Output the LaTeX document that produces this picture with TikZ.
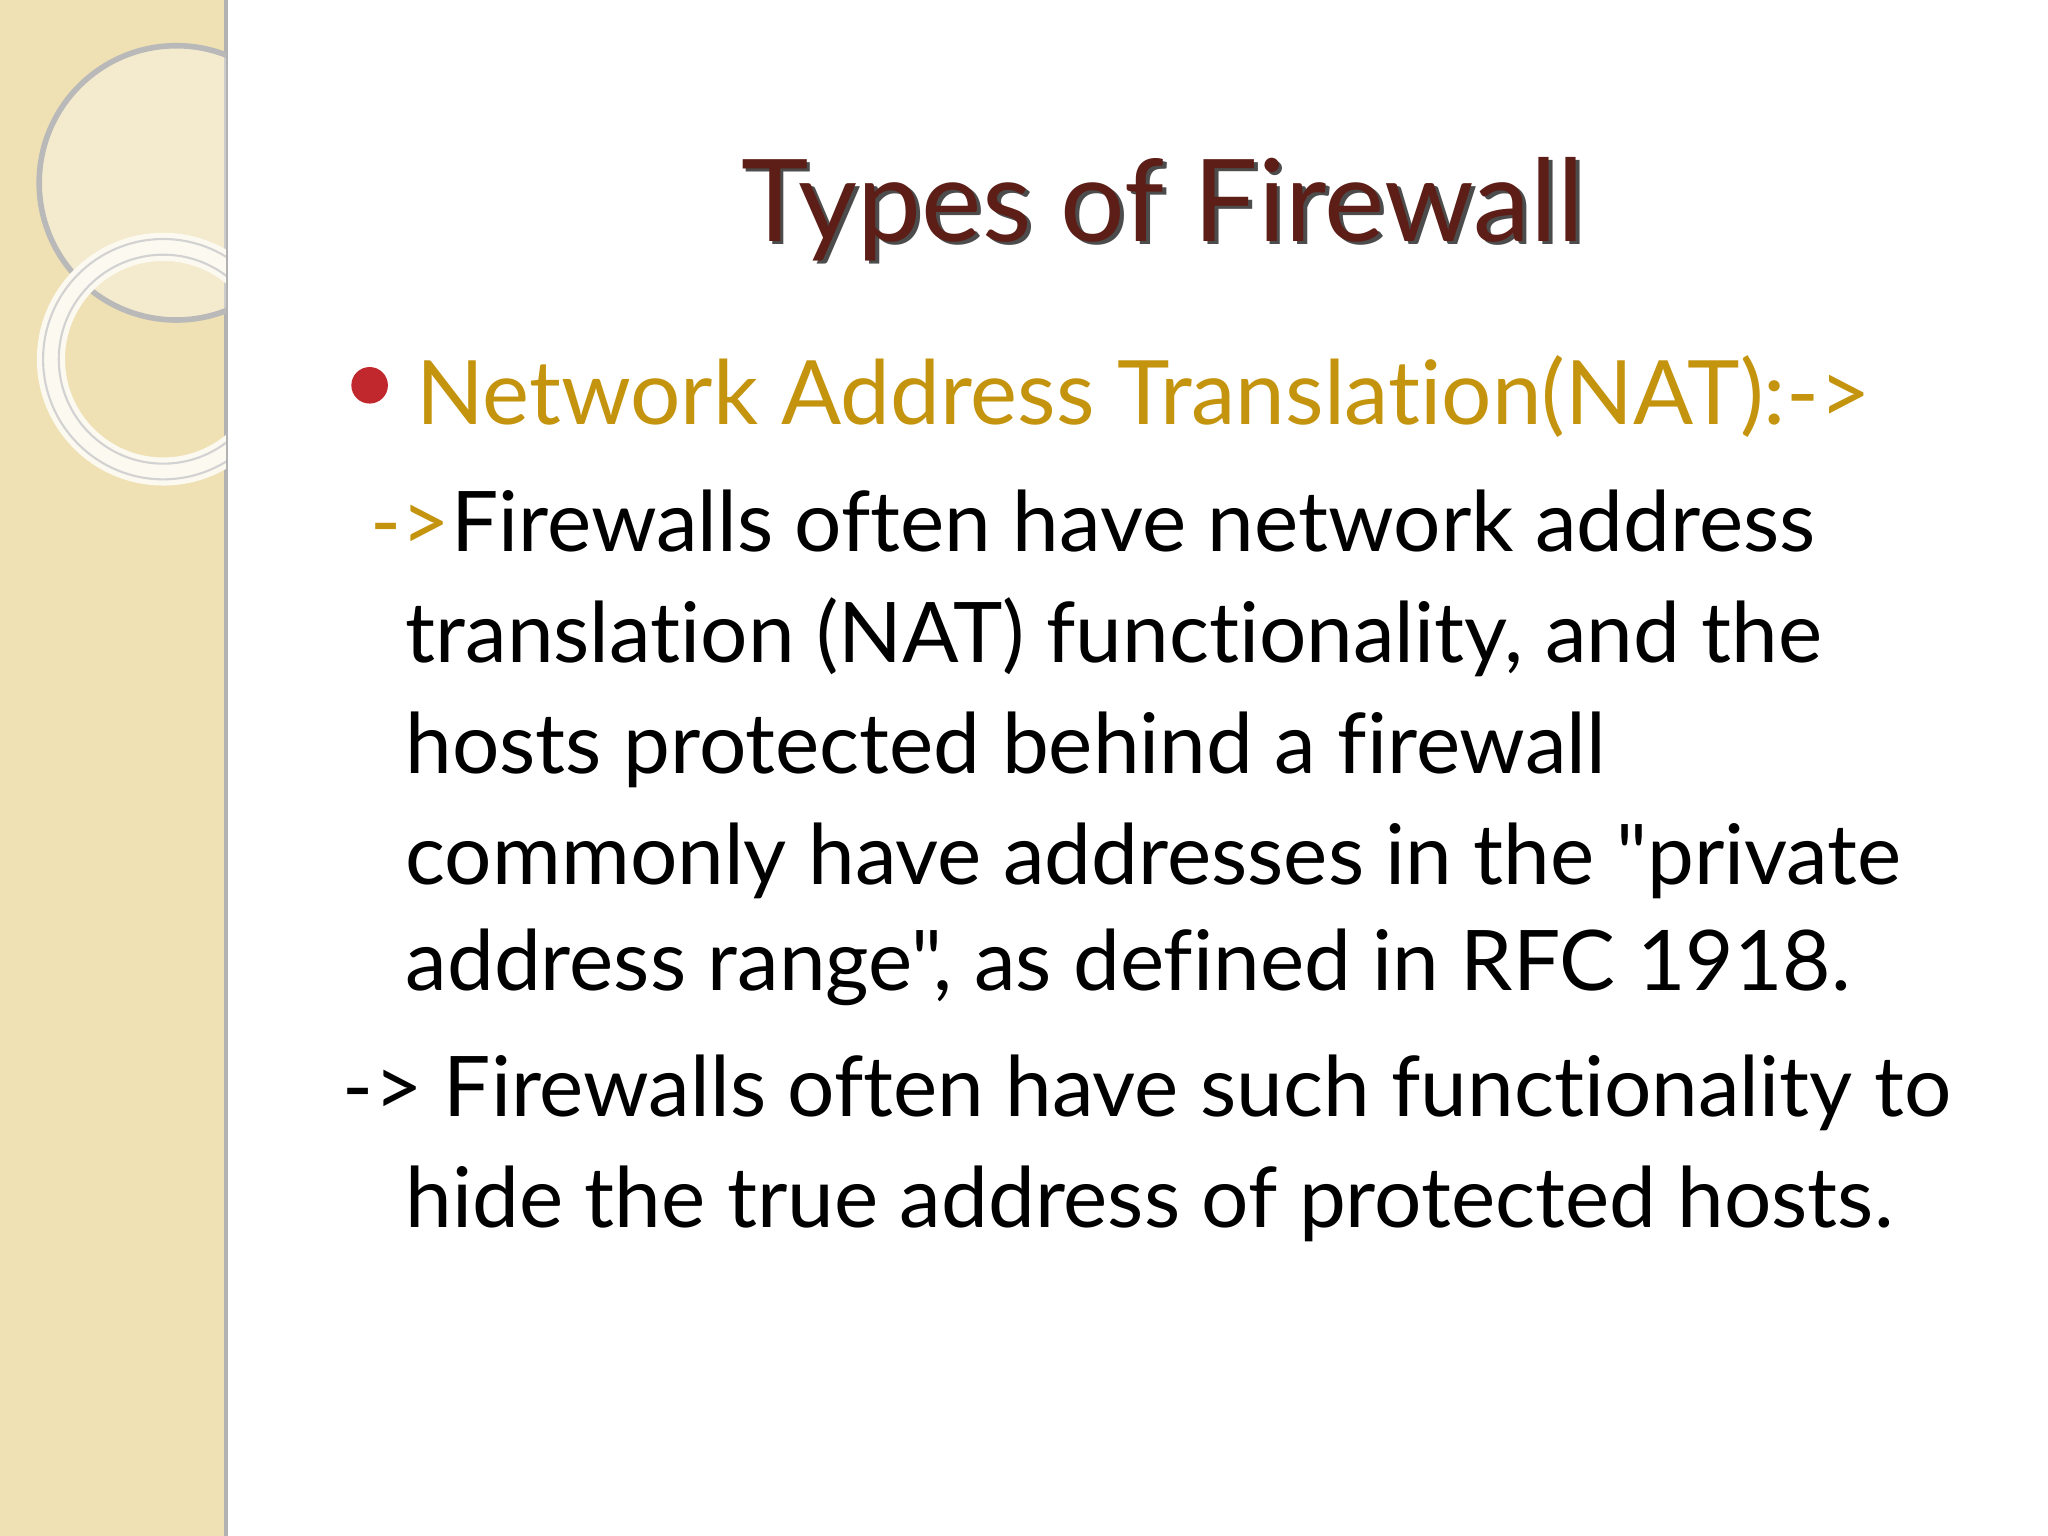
\documentclass[tikz,border=0pt]{standalone}
\usepackage{fontspec}
\setmainfont[Ligatures={NoCommon,TeXOff}]{Lato}
\definecolor{strip}{HTML}{EFE1B4}
\definecolor{titlec}{HTML}{5C1E16}
\definecolor{gold}{HTML}{C4940E}
\definecolor{bulletc}{HTML}{C0282E}
\tikzset{body/.style={anchor=base west,inner sep=0pt,font=\fontsize{23.8}{28}\selectfont,text=black}}
\begin{document}
\begin{tikzpicture}[x=0.01306cm,y=-0.01306cm]
\useasboundingbox (0,0) rectangle (1568,1176);
\fill[white] (0,0) rectangle (1568,1176);
\fill[strip] (0,0) rectangle (173,1176);
\draw[gray!60,line width=1pt] (173,0) -- (173,1176);
\begin{scope}
\clip (0,0) rectangle (173,1176);
\fill[white,opacity=0.35] (135,140) circle (105);
\draw[gray!55,line width=1.6pt] (135,140) circle (105);
\draw[white!80!strip,line width=8pt] (125,275) circle (86);
\draw[gray!35,line width=0.6pt] (125,275) circle (92);
\draw[gray!35,line width=0.6pt] (125,275) circle (80);
\end{scope}
\node[anchor=base,inner sep=0pt,font=\fontsize{32.5}{38}\selectfont,text=black!70] at (893,187) {Types of Firewall};
\node (title)[anchor=base,inner sep=0pt,font=\fontsize{32.5}{38}\selectfont,text=titlec] at (890,185) {Types of Firewall};
\fill[bulletc] (283,295) circle (14) node (bul) {};
\node (nat)[body,text=gold,font=\fontsize{25.3}{30}\selectfont] at (318,325) {Network Address Translation(NAT):->};
\node (a1)[body,text=gold] at (283,422) {->};
\node (l1)[body] at (345,422) {Firewalls often have network address};
\node (l2)[body] at (310,507) {translation (NAT) functionality, and the};
\node (l3)[body] at (310,592) {hosts protected behind a firewall};
\node (l4)[body] at (310,677) {commonly have addresses in the "private};
\node (l5)[body] at (310,758) {address range", as defined in RFC 1918.};
\node (l6)[body] at (262,855) {-> Firewalls often have such functionality to};
\node (l7)[body] at (310,940) {hide the true address of protected hosts.};
\end{tikzpicture}
\end{document}
